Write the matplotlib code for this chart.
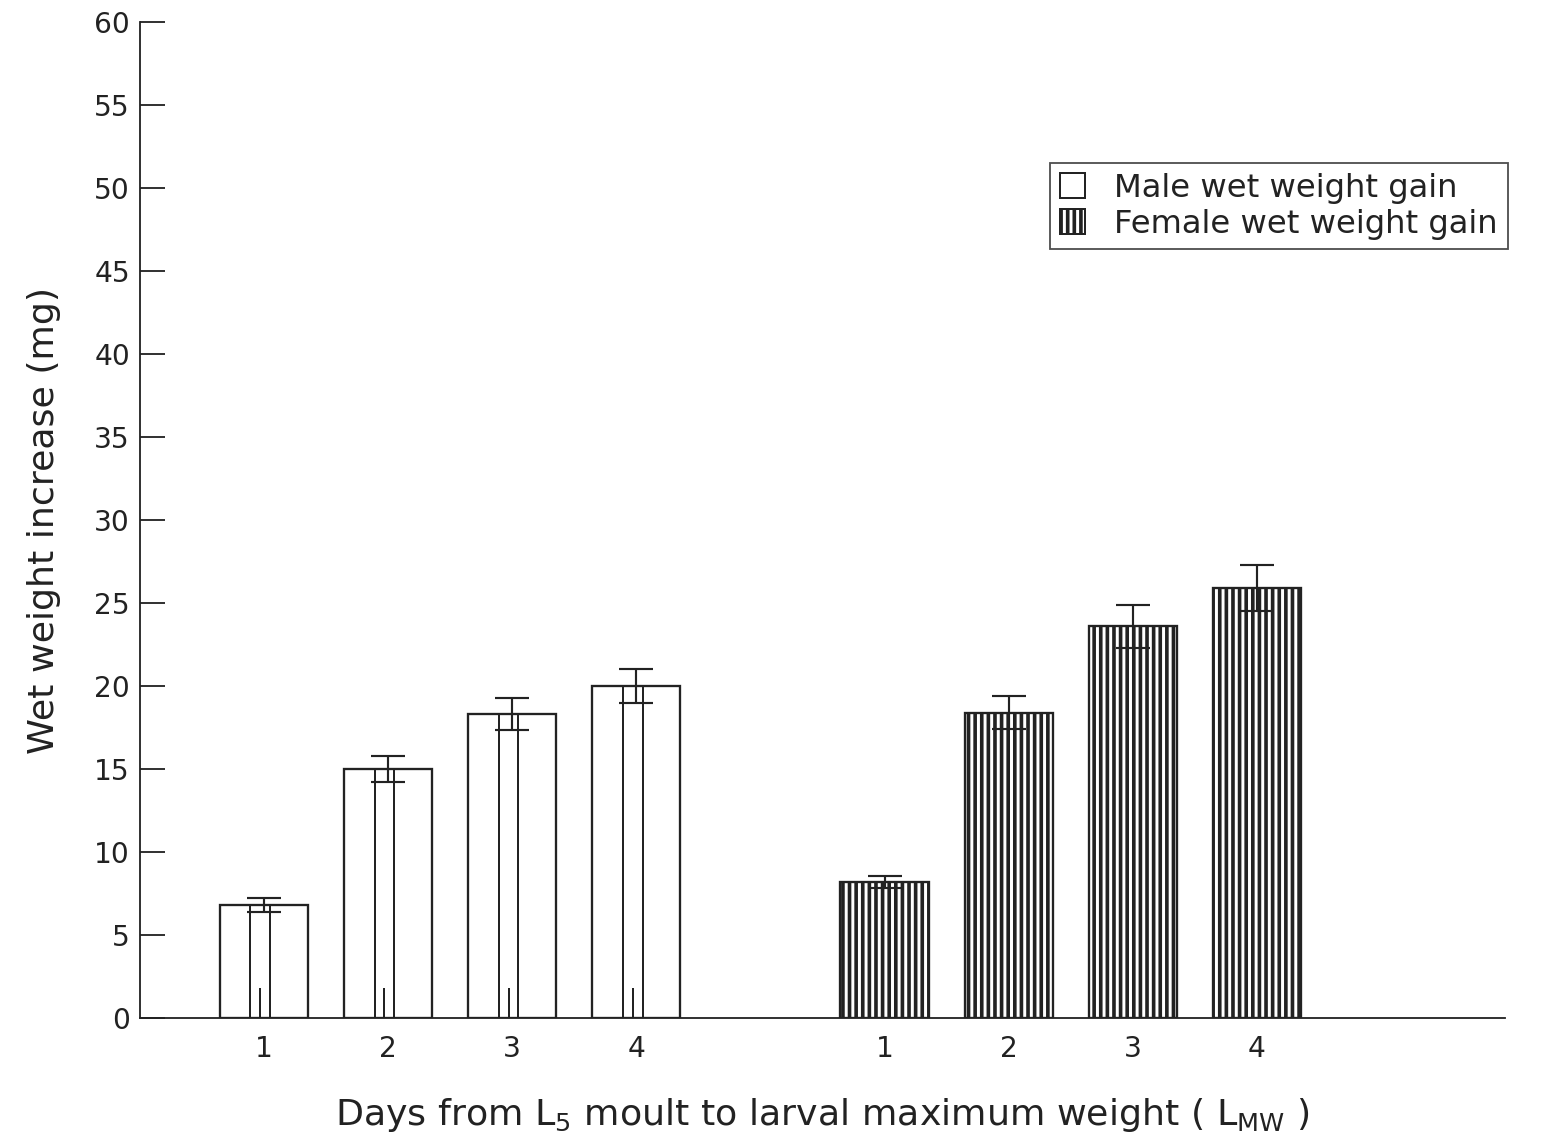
import matplotlib
matplotlib.use("Agg")
import matplotlib.pyplot as plt
from matplotlib.patches import Patch

# Mean wet weight gain (mg) per day, with error bar half-widths
days = ["1", "2", "3", "4"]
male_gain = [6.8, 15.0, 18.3, 20.0]
male_err = [0.4, 0.8, 0.95, 1.0]
female_gain = [8.2, 18.4, 23.6, 25.9]
female_err = [0.35, 1.0, 1.3, 1.4]
male_pos = [1, 2, 3, 4]
female_pos = [6, 7, 8, 9]
stub_height = [1.8, 1.8, 1.8, 1.8]

DPI = 119
plt.rcParams["font.family"] = ["DejaVu Sans"]
plt.rcParams["hatch.linewidth"] = 2.2
plt.rcParams["hatch.color"] = "#222222"

fig = plt.figure(figsize=(1547 / DPI, 1141 / DPI), dpi=DPI)
ax = fig.add_axes([140 / 1547, 1 - 1018 / 1141, (1505 - 140) / 1547, (1018 - 22) / 1141])

ink = "#222222"
bw = 0.71

# male bars: open boxes with a narrow inner box
ax.bar(male_pos, male_gain, width=bw, facecolor="white", edgecolor=ink, linewidth=1.4, zorder=2)
ax.bar([p - 0.03 for p in male_pos], male_gain, width=0.16, facecolor="none",
       edgecolor=ink, linewidth=1.2, zorder=3)
ax.vlines([p - 0.03 for p in male_pos], 0, stub_height, color=ink, linewidth=1.2, zorder=3)

# female bars: vertical-line hatching
ax.bar(female_pos, female_gain, width=bw, facecolor="white", edgecolor=ink,
       hatch="|||", linewidth=1.4, zorder=2)

ax.errorbar(male_pos, male_gain, yerr=male_err, fmt="none", ecolor=ink,
            elinewidth=1.3, capsize=10, capthick=1.3, zorder=4)
ax.errorbar(female_pos, female_gain, yerr=female_err, fmt="none", ecolor=ink,
            elinewidth=1.3, capsize=10, capthick=1.3, zorder=4)

ax.set_xlim(0, 11)
ax.set_ylim(0, 60)
ax.set_yticks(range(0, 61, 5))
ax.set_xticks(male_pos + female_pos)
ax.set_xticklabels(days + days)

for s in ("top", "right"):
    ax.spines[s].set_visible(False)
for s in ("left", "bottom"):
    ax.spines[s].set_linewidth(1.1)
    ax.spines[s].set_color(ink)

ax.tick_params(axis="y", direction="in", length=15, width=1.1, color=ink,
               labelsize=17, labelcolor=ink, pad=6)
ax.tick_params(axis="x", length=0, labelsize=17, labelcolor=ink, pad=10)

ax.set_ylabel("Wet weight increase (mg)", fontsize=22, color=ink, labelpad=20)
ax.set_xlabel(r"Days from L$_\mathregular{5}$ moult to larval maximum weight ( L$_\mathregular{MW}$ )",
              fontsize=22, color=ink, labelpad=20)

handles = [
    Patch(facecolor="white", edgecolor=ink, linewidth=1.2, label="Male wet weight gain"),
    Patch(facecolor="white", edgecolor=ink, hatch="|||", linewidth=1.2, label="Female wet weight gain"),
]
leg = fig.legend(handles=handles, loc="upper left",
                 bbox_to_anchor=(1050 / 1547, 1 - 163 / 1141),
                 fontsize=19.5, frameon=True, fancybox=False, edgecolor=ink,
                 handlelength=0.8, handleheight=0.8, handletextpad=0.9,
                 labelspacing=0.15, borderpad=0.3, borderaxespad=0)
leg.get_frame().set_linewidth(1.1)
for t in leg.get_texts():
    t.set_color(ink)

fig.savefig("out.png", dpi=DPI)
